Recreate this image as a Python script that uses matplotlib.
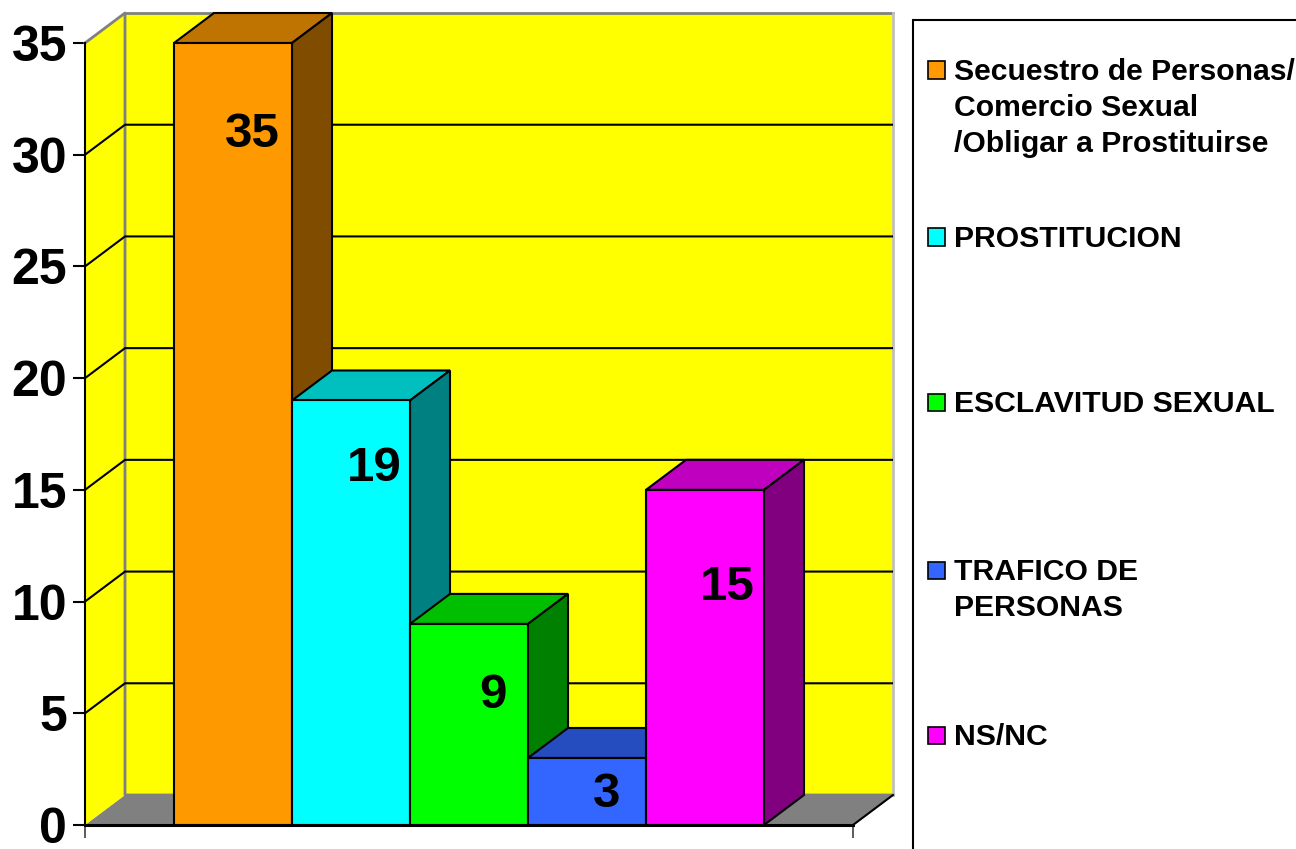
import matplotlib
matplotlib.use('Agg')
import matplotlib.pyplot as plt
from matplotlib.colors import to_rgb
from matplotlib.patches import Polygon, Rectangle

categories = ['Secuestro de Personas/\nComercio Sexual\n/Obligar a Prostituirse',
              'PROSTITUCION', 'ESCLAVITUD SEXUAL', 'TRAFICO DE\nPERSONAS', 'NS/NC']
values = [35, 19, 9, 3, 15]
colors = ['#FF9900', '#00FFFF', '#00FF00', '#3366FF', '#FF00FF']
yticks = [0, 5, 10, 15, 20, 25, 30, 35]

W, H = 1296, 849
plt.rcParams['font.family'] = ['Liberation Sans', 'DejaVu Sans']

# pixel layout of the fake 3d box
x0, x1, y0, y1 = 85, 893, 825, 12
px_unit = 118.0
py_unit = 782 / 35
dx = 40 / px_unit
dy = 30 / py_unit

fig = plt.figure(figsize=(W / 100, H / 100), dpi=100, facecolor='white')
ax = fig.add_axes([x0 / W, 1 - y0 / H, (x1 - x0) / W, (y0 - y1) / H])
xl = -0.5 - (174 - x0) / px_unit
xr = xl + 768 / px_unit
ax.set_xlim(xl, xl + (x1 - x0) / px_unit)
ax.set_ylim(0, (y0 - y1) / py_unit)
ax.patch.set_visible(False)


def poly(pts, fc, ec='k', lw=1.5, z=1):
    ax.add_patch(Polygon(pts, closed=True, facecolor=fc, edgecolor=ec, linewidth=lw,
                         zorder=z, clip_on=False))


# walls and floor
top = yticks[-1]
poly([(xl, 0), (xl + dx, dy), (xr + dx, dy), (xr, 0)], '#808080', ec='none', z=1)
poly([(xl, 0), (xl + dx, dy), (xl + dx, top + dy), (xl, top)], '#FFFF00', ec='none', z=1)
poly([(xl + dx, dy), (xr + dx, dy), (xr + dx, top + dy), (xl + dx, top + dy)], '#FFFF00', ec='none', z=1)
ax.plot([xl, xl + dx, xl + dx, xr + dx], [top, top + dy, dy, dy], color='#808080', lw=2, zorder=2, clip_on=False)
ax.plot([xl + dx, xr + dx], [top + dy, top + dy], color='#808080', lw=2, zorder=2, clip_on=False)
ax.plot([xr + dx, xr + dx], [dy, top + dy], color='#C0C0C0', lw=2, zorder=2, clip_on=False)
ax.plot([xr, xr + dx], [0, dy], color='k', lw=1.5, zorder=2, clip_on=False)

# gridlines on the back and left wall
for t in yticks[1:-1]:
    ax.plot([xl, xl + dx, xr + dx], [t, t + dy, t + dy], color='k', lw=1.5, zorder=2)

# bars, left to right so each one covers the side of the previous
for i, v in enumerate(values):
    c = to_rgb(colors[i])
    l, r = i - 0.5, i + 0.5
    z = 3 + i
    poly([(l, v), (l + dx, v + dy), (r + dx, v + dy), (r, v)], tuple(k * 0.75 for k in c), z=z)
    poly([(r, 0), (r + dx, dy), (r + dx, v + dy), (r, v)], tuple(k * 0.5 for k in c), z=z)
    ax.bar(i, v, width=1, color=colors[i], edgecolor='k', linewidth=1.5, zorder=z)

# value labels sit at odd spots in the original
label_dx = [0.16, 0.2, 0.2, 0.17, 0.19]
label_dy = [-4.1, -3.05, -3.2, -1.65, -4.35]
for i, v in enumerate(values):
    ax.text(i + label_dx[i], v + label_dy[i], str(v), ha='center', va='center',
            fontsize=35.5, fontweight='bold', color='k', zorder=20)

for s in ['top', 'right']:
    ax.spines[s].set_visible(False)
ax.spines['left'].set_bounds(0, top)
ax.spines['left'].set_linewidth(1.5)
ax.spines['left'].set_zorder(2.5)
ax.spines['bottom'].set_bounds(xl, xr)
ax.spines['bottom'].set_linewidth(2.2)
ax.spines['bottom'].set_zorder(30)
ax.set_yticks(yticks)
ax.set_yticklabels([str(t) for t in yticks], fontsize=36, fontweight='bold')
ax.tick_params(axis='y', length=8.5, width=1.5, pad=4.5)
ax.set_xticks([xl, xr])
ax.set_xticklabels(['', ''])
ax.tick_params(axis='x', length=9, width=1.2, color='#404040')

# legend box runs off the figure on the right and bottom
fig.add_artist(Rectangle((913 / W, 1 - 900 / H), 500 / W, 880 / H, transform=fig.transFigure,
                         facecolor='white', edgecolor='k', linewidth=1.5))
swatch_y = [70, 237, 402, 570, 735]
text_y = [108, 239, 404, 590, 737]
for i, name in enumerate(categories):
    fig.add_artist(Rectangle((928 / W, 1 - (swatch_y[i] + 8.5) / H), 16.5 / W, 17 / H,
                             transform=fig.transFigure, facecolor=colors[i], edgecolor='k', linewidth=1.2))
    fig.text(954 / W, 1 - text_y[i] / H, name, ha='left', va='center', fontsize=21.7,
             fontweight='bold', color='k', linespacing=1.37)

fig.savefig('out.png', dpi=100)
